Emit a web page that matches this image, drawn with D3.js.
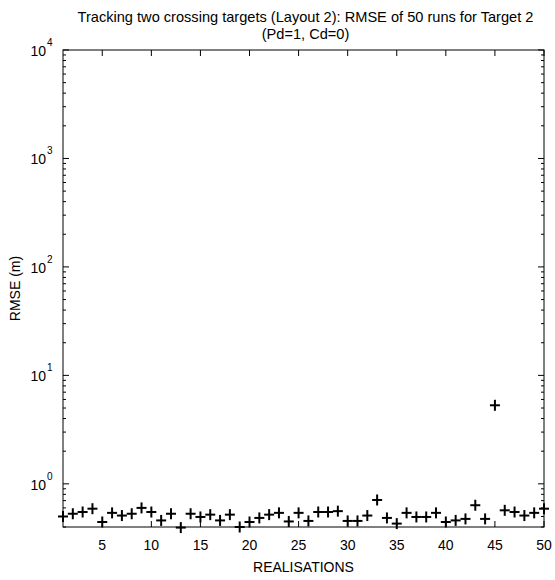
<!DOCTYPE html>
<html>
<head>
<meta charset="utf-8">
<script src="https://cdn.jsdelivr.net/npm/d3@7"></script>
<style>
  body { margin: 0; background: #fff; }
  svg { display: block; }
  text { font-family: "Liberation Sans", Arial, sans-serif; fill: #000; }
</style>
</head>
<body>
<script>
const realisations = d3.range(1, 51);
const rmseTarget2 = [
  0.50, 0.53, 0.55, 0.59, 0.445, 0.54, 0.51, 0.53, 0.60, 0.55,
  0.46, 0.53, 0.395, 0.53, 0.495, 0.52, 0.46, 0.52, 0.40, 0.445,
  0.485, 0.52, 0.54, 0.45, 0.54, 0.455, 0.55, 0.55, 0.56, 0.455,
  0.455, 0.51, 0.71, 0.485, 0.43, 0.54, 0.495, 0.495, 0.54, 0.445,
  0.46, 0.475, 0.635, 0.475, 5.3, 0.57, 0.55, 0.51, 0.54, 0.59
];
const xTicks = [5, 10, 15, 20, 25, 30, 35, 40, 45, 50];
const yExponents = [0, 1, 2, 3, 4];
const titleLines = ["Tracking two crossing targets (Layout 2): RMSE of 50 runs for Target 2", "(Pd=1, Cd=0)"];
const xLabel = "REALISATIONS";
const yLabel = "RMSE (m)";

const W = 555, H = 580;
const m = { left: 63, right: 11, top: 50, bottom: 53 };
const iw = W - m.left - m.right, ih = H - m.top - m.bottom;

const svg = d3.select("body").append("svg").attr("width", W).attr("height", H);
const g = svg.append("g").attr("transform", `translate(${m.left},${m.top})`);

const x = d3.scaleLinear().domain([1, 50]).range([0, iw]);
const y = d3.scaleLog().domain([0.4, 1e4]).range([ih, 0]);

// minor ticks
const minor = [];
for (let e = -1; e < 4; e++) for (let k = 2; k <= 9; k++) {
  const v = k * Math.pow(10, e);
  if (v >= 0.4 && v <= 1e4) minor.push(v);
}
const majors = yExponents.map(e => Math.pow(10, e));

// frame
g.append("rect").attr("x", 0).attr("y", 0).attr("width", iw).attr("height", ih)
  .attr("fill", "none").attr("stroke", "#000").attr("stroke-width", 1);

const tk = g.append("g").attr("stroke", "#000").attr("stroke-width", 1);
xTicks.forEach(t => {
  tk.append("line").attr("x1", x(t)).attr("x2", x(t)).attr("y1", ih).attr("y2", ih - 6);
  tk.append("line").attr("x1", x(t)).attr("x2", x(t)).attr("y1", 0).attr("y2", 6);
});
majors.forEach(v => {
  tk.append("line").attr("x1", 0).attr("x2", 6).attr("y1", y(v)).attr("y2", y(v));
  tk.append("line").attr("x1", iw).attr("x2", iw - 6).attr("y1", y(v)).attr("y2", y(v));
});
minor.forEach(v => {
  tk.append("line").attr("x1", 0).attr("x2", 3).attr("y1", y(v)).attr("y2", y(v));
  tk.append("line").attr("x1", iw).attr("x2", iw - 3).attr("y1", y(v)).attr("y2", y(v));
});

// x tick labels
g.append("g").selectAll("text").data(xTicks).join("text")
  .attr("x", d => x(d)).attr("y", ih + 23)
  .attr("text-anchor", "middle").attr("font-size", 14).text(d => d);

// y tick labels
const yl = g.append("g").selectAll("g").data(yExponents).join("g")
  .attr("transform", e => `translate(-8,${y(Math.pow(10, e)) + 6})`);
yl.append("text").attr("x", -9).attr("text-anchor", "end").attr("font-size", 14).text("10");
yl.append("text").attr("x", -8).attr("y", -10).attr("font-size", 10).text(e => e);

// markers
const pts = g.append("g").attr("stroke", "#000").attr("stroke-width", 2);
rmseTarget2.forEach((v, i) => {
  const cx = x(realisations[i]), cy = y(v);
  pts.append("line").attr("x1", cx - 5).attr("x2", cx + 5).attr("y1", cy).attr("y2", cy);
  pts.append("line").attr("x1", cx).attr("x2", cx).attr("y1", cy - 5.5).attr("y2", cy + 5.5);
});

// labels
svg.append("text").attr("x", m.left + iw / 2).attr("y", H - 8)
  .attr("text-anchor", "middle").attr("font-size", 14).text(xLabel);
svg.append("text").attr("transform", `translate(20,${m.top + ih / 2}) rotate(-90)`)
  .attr("text-anchor", "middle").attr("font-size", 14).text(yLabel);
titleLines.forEach((t, i) => {
  svg.append("text").attr("x", m.left + iw / 2 + 2).attr("y", 22 + i * 17)
    .attr("text-anchor", "middle").attr("font-size", 14.6).text(t);
});
</script>
</body>
</html>
